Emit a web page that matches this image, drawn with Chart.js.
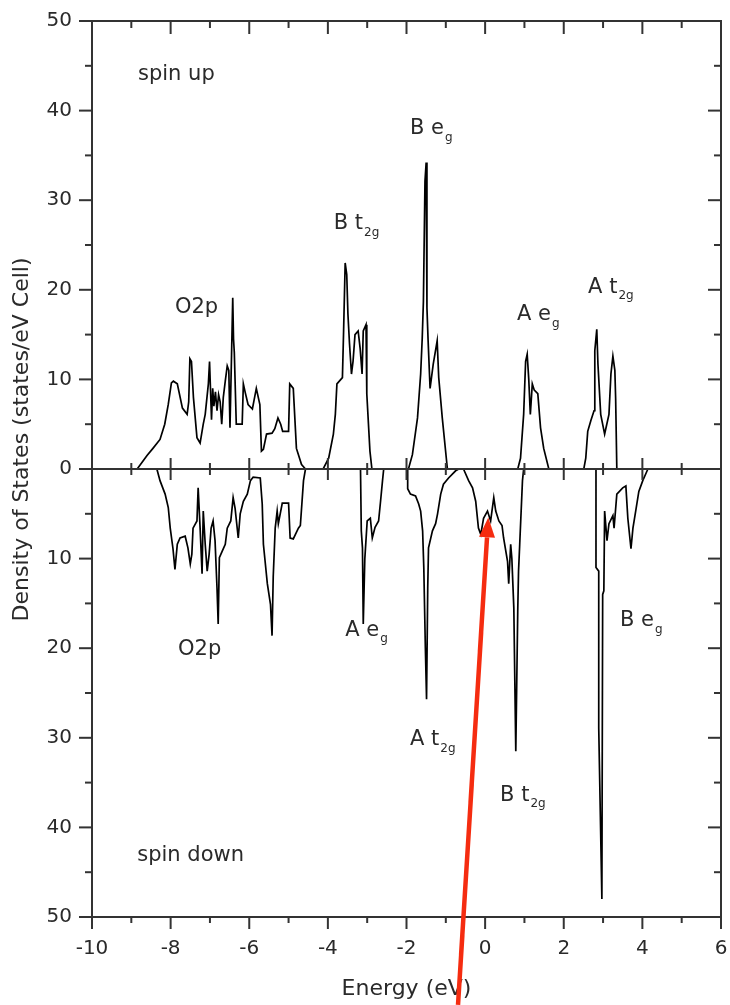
<!DOCTYPE html>
<html><head><meta charset="utf-8">
<script src="https://cdn.jsdelivr.net/npm/chart.js@4.4.0/dist/chart.umd.min.js"></script>
<style>html,body{margin:0;padding:0;background:#fff}#wrap{width:730px;height:1005px;position:relative}</style>
</head><body><div id="wrap"><canvas id="c" width="730" height="1005"></canvas></div>
<script>
// ---- data (energy in eV, DOS in states/eV cell; spin down stored negative) ----
const upEnergy = [-8.85,-8.80,-8.60,-8.45,-8.27,-8.15,-8.06,-7.98,-7.93,-7.83,-7.70,-7.58,-7.54,-7.51,-7.47,-7.42,-7.33,-7.25,-7.17,-7.12,-7.04,-7.01,-6.96,-6.93,-6.90,-6.86,-6.82,-6.78,-6.74,-6.70,-6.66,-6.61,-6.56,-6.52,-6.49,-6.45,-6.42,-6.40,-6.38,-6.33,-6.18,-6.15,-6.10,-6.03,-5.92,-5.82,-5.73,-5.69,-5.64,-5.56,-5.42,-5.35,-5.27,-5.20,-5.15,-5.00,-4.97,-4.88,-4.80,-4.67,-4.57,
  -4.12,-3.98,-3.86,-3.81,-3.77,-3.63,-3.60,-3.56,-3.52,-3.49,-3.45,-3.40,-3.36,-3.31,-3.23,-3.18,-3.13,-3.10,-3.03,-3.01,-2.93,-2.88,
  -1.95,-1.85,-1.72,-1.64,-1.60,-1.57,-1.53,-1.50,-1.48,-1.45,-1.40,-1.32,-1.22,-1.18,-1.09,-0.96,
  0.83,0.90,0.98,1.03,1.07,1.11,1.15,1.20,1.25,1.34,1.41,1.49,1.62,
  2.51,2.56,2.61,2.69,2.77,2.79,2.84,2.87,2.94,3.04,3.15,3.20,3.25,3.30,3.32,3.35];
const upDOS = [0,0.3,1.5,2.3,3.3,5.0,7.2,9.6,9.8,9.5,6.8,6.1,7.5,12.3,12.0,8,3.5,2.9,5,6.1,9.5,12.0,5.5,9,7,8.6,6.5,8.3,7.5,5,8,9.8,11.5,11,4.6,12.8,19.1,14.5,13,5,5,9.5,8.5,7.2,6.7,9.0,7.2,2.0,2.2,3.9,4.0,4.5,5.7,5,4.2,4.2,9.5,9.0,2.3,0.5,0,
  0,1.2,3.9,6.1,9.5,10.2,15.4,23.0,21.7,17.3,14,10.6,12,15,15.4,13.5,10.6,15.4,16.1,8.4,2,0,
  0,1.6,5.7,10.6,14.6,18.7,32.1,34.2,18,14.3,9,11.7,14.3,10.2,5.7,0,
  0,1.2,6.1,12,12.8,10,6.1,9.5,8.8,8.4,4.6,2.3,0,
  0,1.2,4.2,5.4,6.5,13.2,15.6,11.7,6.1,3.9,6.1,10.6,12.6,11,7.9,0];
const downEnergy = [-8.35,-8.27,-8.14,-8.06,-8.01,-7.94,-7.89,-7.83,-7.76,-7.63,-7.56,-7.50,-7.46,-7.43,-7.33,-7.30,-7.25,-7.20,-7.17,-7.12,-7.07,-7.02,-6.97,-6.92,-6.87,-6.82,-6.79,-6.76,-6.69,-6.61,-6.56,-6.47,-6.41,-6.36,-6.28,-6.23,-6.15,-6.05,-5.97,-5.90,-5.72,-5.67,-5.64,-5.54,-5.46,-5.42,-5.39,-5.34,-5.29,-5.26,-5.16,-5.00,-4.96,-4.88,-4.75,-4.70,-4.62,-4.57,
  -3.17,-3.15,-3.12,-3.10,-3.06,-3.00,-2.92,-2.87,-2.80,-2.71,-2.66,-2.61,-2.58,
  -1.97,-1.97,-1.90,-1.77,-1.69,-1.64,-1.59,-1.56,-1.52,-1.49,-1.46,-1.44,-1.34,-1.26,-1.21,-1.13,-1.06,-0.93,-0.75,-0.67,-0.55,-0.42,-0.32,-0.24,-0.17,-0.11,-0.04,0.06,0.14,0.22,0.27,0.35,0.43,0.47,0.57,0.60,0.65,0.68,0.73,0.78,0.83,0.85,0.88,0.95,0.98,
  2.82,2.82,2.89,2.89,2.97,2.99,3.02,3.04,3.10,3.15,3.25,3.28,3.35,3.50,3.58,3.63,3.71,3.76,3.83,3.91,4.01,4.09,4.14];
const downDOS = [0,-1.3,-2.8,-4.3,-6.6,-8.9,-11.2,-8.4,-7.7,-7.5,-8.8,-10.6,-9.5,-6.6,-5.8,-2.1,-6.6,-11.7,-4.7,-8.4,-11.4,-9.5,-6.6,-5.8,-8,-13.3,-17.3,-9.9,-9.2,-8.4,-6.6,-5.8,-3.2,-4.4,-7.7,-5,-3.6,-2.8,-1.3,-0.9,-1,-3.9,-8.4,-12.8,-15.1,-18.6,-12,-6.6,-4.7,-6.1,-3.8,-3.8,-7.7,-7.8,-6.6,-6.3,-1.3,0,
  0,-6.9,-8.8,-17.3,-10,-5.8,-5.5,-7.7,-6.5,-5.8,-3.6,-1.3,0,
  0,-2.2,-2.8,-3,-3.9,-4.7,-6.9,-11,-20,-25.7,-13.3,-8.8,-6.9,-6.1,-5,-2.8,-1.7,-1,-0.2,0,0,-1.3,-2.1,-3.6,-6.6,-7.3,-5.5,-4.7,-5.8,-3.2,-4.7,-5.8,-6.3,-7.7,-10.3,-12.8,-8.4,-10,-15.5,-31.5,-15.8,-11.4,-8.4,-1.3,0,
  0,-11,-11.4,-28.9,-48,-14,-13.6,-4.7,-8,-6.1,-5.2,-6.6,-2.8,-2.1,-1.9,-5.5,-8.9,-6.6,-4.7,-2.5,-1.3,-0.5,0];
const xTickValues = [-10,-8,-6,-4,-2,0,2,4,6];
const yTickValues = [-50,-40,-30,-20,-10,0,10,20,30,40,50];
// text annotations: [energy, DOS, main text, subscript]
const peakLabels = [
  [-8.83, 44.0, 'spin up', ''],
  [-7.89, 18.0, 'O2p', ''],
  [-3.85, 27.4, 'B t', '2g'],
  [-1.91, 38.0, 'B e', 'g'],
  [0.81, 17.2, 'A e', 'g'],
  [2.62, 20.3, 'A t', '2g'],
  [-7.81, -20.2, 'O2p', ''],
  [-3.56, -18.0, 'A e', 'g'],
  [-1.91, -30.2, 'A t', '2g'],
  [0.38, -36.4, 'B t', '2g'],
  [3.43, -16.9, 'B e', 'g'],
  [-8.85, -43.1, 'spin down', '']
];
const arrowFrom = [-0.69, -59.8];
const arrowTo = [0.08, -5.4];
const xTitle = 'Energy (eV)';
const yTitle = 'Density of States (states/eV Cell)';

const FONT = "'DejaVu Sans', sans-serif";
const TXT = '#2a2a2a';
const AREA = {left: 92, top: 21, right: 721, bottom: 917};

function pts(xs, ys){ return xs.map((e,i)=>({x:e, y:ys[i]})); }
function noOverhang(s){ s.paddingLeft = 0; s.paddingRight = 0; s.paddingTop = 0; s.paddingBottom = 0; }

const framePlugin = {
  id: 'frame',
  afterDatasetsDraw(chart){
    const {ctx, chartArea:a, scales:{x, y}} = chart;
    ctx.save();
    ctx.strokeStyle = '#333'; ctx.lineWidth = 2; ctx.lineCap = 'butt';
    const ln = (x1,y1,x2,y2)=>{ctx.beginPath();ctx.moveTo(x1,y1);ctx.lineTo(x2,y2);ctx.stroke();};
    ctx.strokeRect(a.left, a.top, a.right-a.left, a.bottom-a.top);
    const y0 = y.getPixelForValue(0);
    ln(a.left, y0, a.right, y0);
    for (let v = x.min; v <= x.max; v++){
      const px = x.getPixelForValue(v);
      const major = v % 2 === 0;
      ln(px, a.bottom, px, a.bottom + (major ? 12 : 6));
      ln(px, a.top, px, a.top + (major ? 13 : 7));
      if (v > x.min && v < x.max){ const h = major ? 11 : 6; ln(px, y0-h, px, y0+h); }
    }
    for (let v = y.min; v <= y.max; v += 5){
      const py = y.getPixelForValue(v);
      const major = v % 10 === 0;
      ln(a.left - (major ? 13 : 7), py, a.left, py);
      ln(a.right - (major ? 13 : 7), py, a.right, py);
    }
    ctx.restore();
  },
  afterDraw(chart){
    const {ctx, scales:{x, y}} = chart;
    ctx.save();
    ctx.fillStyle = TXT;
    ctx.textBaseline = 'middle'; ctx.textAlign = 'left';
    peakLabels.forEach(([e, d, t, s])=>{
      const px = x.getPixelForValue(e), py = y.getPixelForValue(d);
      ctx.font = "21px " + FONT;
      ctx.fillText(t, px, py);
      if (s){
        const w = ctx.measureText(t).width;
        ctx.font = "12px " + FONT;
        ctx.fillText(s, px + w + 1, py + 9);
      }
    });
    // y axis title
    ctx.save();
    ctx.font = "22px " + FONT;
    ctx.textAlign = 'center'; ctx.textBaseline = 'middle';
    ctx.translate(22, y.getPixelForValue(3.3));
    ctx.rotate(-Math.PI/2);
    ctx.fillText(yTitle, 0, 0);
    ctx.restore();
    // red arrow
    const x1 = x.getPixelForValue(arrowFrom[0]), y1 = y.getPixelForValue(arrowFrom[1]);
    const x2 = x.getPixelForValue(arrowTo[0]), y2 = y.getPixelForValue(arrowTo[1]);
    const ang = Math.atan2(y2-y1, x2-x1);
    const hl = 20, hw = 8;
    const bx = x2 - hl*Math.cos(ang), by = y2 - hl*Math.sin(ang);
    ctx.strokeStyle = '#f52c10'; ctx.fillStyle = '#f52c10'; ctx.lineWidth = 4.5;
    ctx.beginPath(); ctx.moveTo(x1,y1); ctx.lineTo(bx,by); ctx.stroke();
    ctx.beginPath();
    ctx.moveTo(x2,y2);
    ctx.lineTo(bx + hw*Math.sin(ang), by - hw*Math.cos(ang));
    ctx.lineTo(bx - hw*Math.sin(ang), by + hw*Math.cos(ang));
    ctx.closePath(); ctx.fill();
    ctx.restore();
  }
};

const chart = new Chart(document.getElementById('c'), {
  type: 'scatter',
  data: {
    datasets: [
      {label:'spin up', data: pts(upEnergy, upDOS), showLine:true, borderColor:'#000', borderWidth:1.7, pointRadius:0, tension:0, fill:false},
      {label:'spin down', data: pts(downEnergy, downDOS), showLine:true, borderColor:'#000', borderWidth:1.7, pointRadius:0, tension:0, fill:false}
    ]
  },
  options: {
    responsive: false, animation: false,
    layout: {padding: {top: AREA.top, right: 730 - AREA.right, left: 0, bottom: 0}},
    plugins: {legend:{display:false}, tooltip:{enabled:false}},
    scales: {
      x: {
        type:'linear', min:-10, max:6,
        afterBuildTicks: s => { s.ticks = xTickValues.map(v=>({value:v})); },
        afterFit: s => { s.height = 1005 - AREA.bottom; noOverhang(s); },
        grid: {display:false, drawTicks:false},
        border: {display:false},
        ticks: {padding: 20, color: TXT, font:{family:FONT, size:20}, maxRotation:0},
        title: {display:true, text:xTitle, color:TXT, font:{family:FONT, size:22}, padding:{top:0, bottom:3}}
      },
      y: {
        type:'linear', min:-50, max:50,
        afterBuildTicks: s => { s.ticks = yTickValues.map(v=>({value:v})); },
        afterFit: s => { s.width = AREA.left; noOverhang(s); },
        grid: {display:false, drawTicks:false},
        border: {display:false},
        ticks: {padding: 20, color: TXT, font:{family:FONT, size:20}, callback: v => String(Math.abs(v))}
      }
    }
  },
  plugins: [framePlugin]
});
// nudge layout padding so the plot frame lands where the reference has it
for (let i = 0; i < 3; i++){
  const ca = chart.chartArea, p = chart.options.layout.padding;
  const dT = AREA.top - ca.top, dR = ca.right - AREA.right;
  if (Math.abs(dT) < 0.5 && Math.abs(dR) < 0.5) break;
  p.top += dT; p.right += dR;
  chart.update();
}
</script></body></html>
